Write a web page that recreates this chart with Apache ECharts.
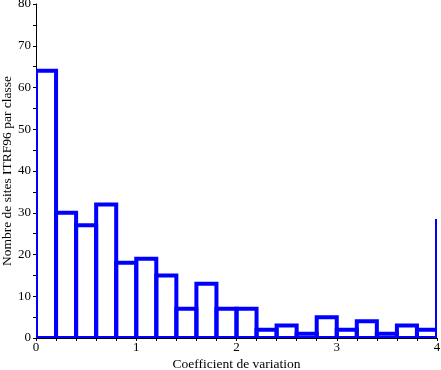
<!DOCTYPE html>
<html>
<head>
<meta charset="utf-8">
<script src="https://cdn.jsdelivr.net/npm/echarts@6/dist/echarts.min.js"></script>
<style>html,body{margin:0;padding:0;background:#fff;}#c{width:441px;height:370px;}</style>
</head>
<body>
<div id="c"></div>
<script>
var binLefts = [0, 0.2, 0.4, 0.6, 0.8, 1.0, 1.2, 1.4, 1.6, 1.8, 2.0, 2.2, 2.4, 2.6, 2.8, 3.0, 3.2, 3.4, 3.6, 3.8, 4.0];
var binWidth = 0.2;
var counts = [64, 30, 27, 32, 18, 19, 15, 7, 13, 7, 7, 2, 3, 1, 5, 2, 4, 1, 3, 2, 28];
var xTitle = 'Coefficient de variation';
var yTitle = 'Nombre de sites ITRF96 par classe';

var data = binLefts.map(function (l, i) { return [l, l + binWidth, counts[i]]; });
var font = 'Liberation Serif';
var chart = echarts.init(document.getElementById('c'));
chart.setOption({
  animation: false,
  grid: { left: 36, right: 4, top: 4, bottom: 32, containLabel: false, outerBoundsMode: 'none' },
  xAxis: {
    type: 'value', min: 0, max: 4, interval: 1,
    name: xTitle, nameLocation: 'middle', nameGap: 19, nameMoveOverlap: false,
    nameTextStyle: { fontFamily: font, fontSize: 13.5, color: '#000' },
    axisLine: { onZero: false, lineStyle: { color: '#000', width: 1 } },
    axisTick: { show: true, length: 3, lineStyle: { color: '#000' } },
    minorTick: { show: true, splitNumber: 5, length: 3, lineStyle: { color: '#000' } },
    axisLabel: { fontFamily: font, fontSize: 13, color: '#000', margin: 3 },
    splitLine: { show: false }
  },
  yAxis: {
    type: 'value', min: 0, max: 80, interval: 10,
    name: yTitle, nameLocation: 'middle', nameGap: 22, nameRotate: 90, nameMoveOverlap: false,
    nameTextStyle: { fontFamily: font, fontSize: 13.5, color: '#000' },
    axisLine: { show: true, lineStyle: { color: '#000', width: 1 } },
    axisTick: { show: true, length: 3, lineStyle: { color: '#000' } },
    minorTick: { show: true, splitNumber: 2, length: 3, lineStyle: { color: '#000' } },
    axisLabel: { fontFamily: font, fontSize: 13, color: '#000', margin: 5 },
    splitLine: { show: false }
  },
  series: [{
    type: 'custom',
    clip: true,
    data: data,
    renderItem: function (params, api) {
      var p0 = api.coord([api.value(0), api.value(2)]);
      var p1 = api.coord([api.value(1), 0]);
      return {
        type: 'rect',
        shape: { x: p0[0], y: p0[1], width: p1[0] - p0[0], height: p1[1] - p0[1] },
        style: { fill: 'none', stroke: '#0000ff', lineWidth: 4 }
      };
    }
  }]
});
</script>
</body>
</html>
